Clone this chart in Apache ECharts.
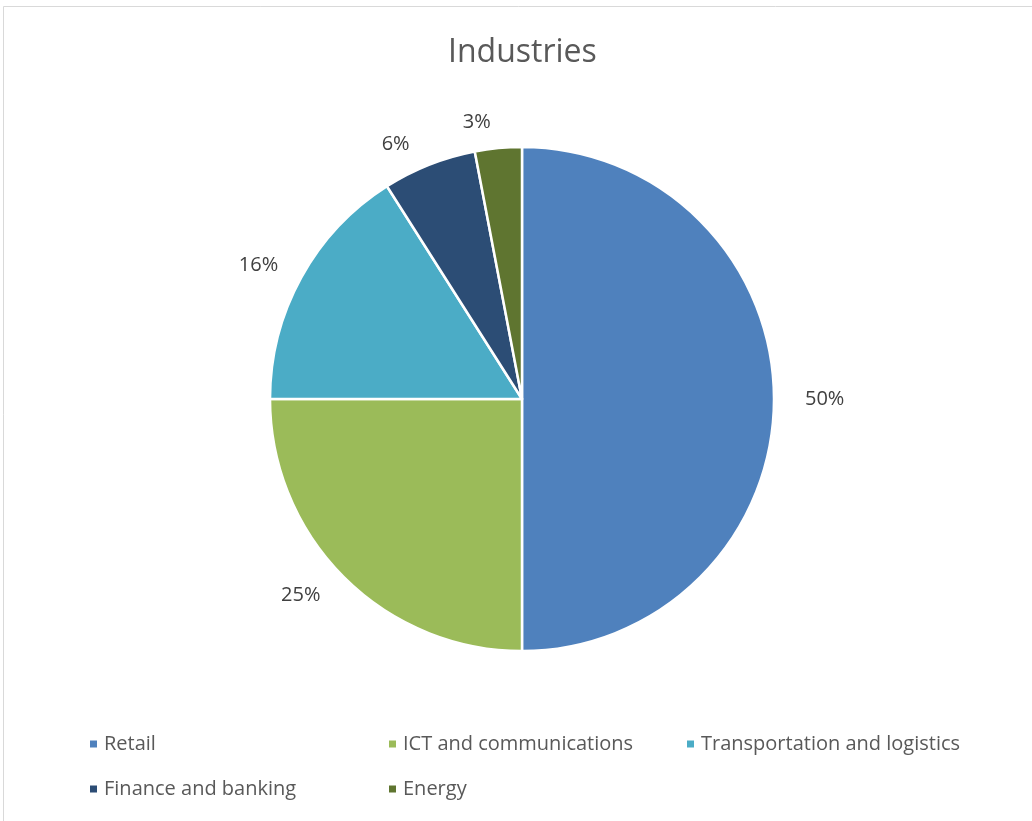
<!DOCTYPE html>
<html>
<head>
<meta charset="utf-8">
<style>
  html, body { margin: 0; padding: 0; background: #ffffff; }
  #chart { width: 1032px; height: 821px; }
</style>
<script src="https://cdn.jsdelivr.net/npm/echarts@6/dist/echarts.min.js"></script>
</head>
<body>
<div id="chart"></div>
<script>
// Share of projects by industry (percent)
const industries = ['Retail', 'ICT and communications', 'Transportation and logistics', 'Finance and banking', 'Energy'];
const shares = [50, 25, 16, 6, 3];
const sliceColors = ['#4F81BD', '#9BBB59', '#4BACC6', '#2C4D75', '#5F7530'];

const FONT = '"Open Sans", "Liberation Sans", sans-serif';

const chart = echarts.init(document.getElementById('chart'), null, { renderer: 'canvas' });

function legendBlock(names, left) {
  return {
    orient: 'vertical',
    left: left,
    top: 729,
    itemWidth: 9,
    itemHeight: 9,
    itemGap: 25,
    icon: 'rect',
    selectedMode: false,
    data: names,
    textStyle: { color: '#595959', fontSize: 20, fontFamily: FONT, padding: [0, 0, 0, 1] }
  };
}

chart.setOption({
  backgroundColor: '#ffffff',
  color: sliceColors,
  title: {
    text: 'Industries',
    left: 443,
    top: 32,
    textStyle: { color: '#595959', fontSize: 32, fontWeight: 'normal', fontFamily: FONT }
  },
  graphic: [{
    type: 'rect',
    shape: { x: 3.5, y: 6.5, width: 1100, height: 900 },
    style: { fill: 'none', stroke: '#d9d9d9', lineWidth: 1 },
    silent: true
  }],
  legend: [
    legendBlock([industries[0], industries[3]], 83),
    legendBlock([industries[1], industries[4]], 382),
    legendBlock([industries[2]], 680)
  ],
  series: [{
    type: 'pie',
    center: [522, 399],
    radius: 252,
    startAngle: 90,
    clockwise: true,
    silent: true,
    animation: false,
    itemStyle: { borderColor: '#ffffff', borderWidth: 2.5 },
    label: {
      show: true,
      position: 'outside',
      formatter: '{c}%',
      color: '#404040',
      fontSize: 20,
      fontFamily: FONT
    },
    labelLine: { show: false, length: 26, length2: 0 },
    data: industries.map((name, i) => ({ name: name, value: shares[i] }))
  }]
});
</script>
</body>
</html>
